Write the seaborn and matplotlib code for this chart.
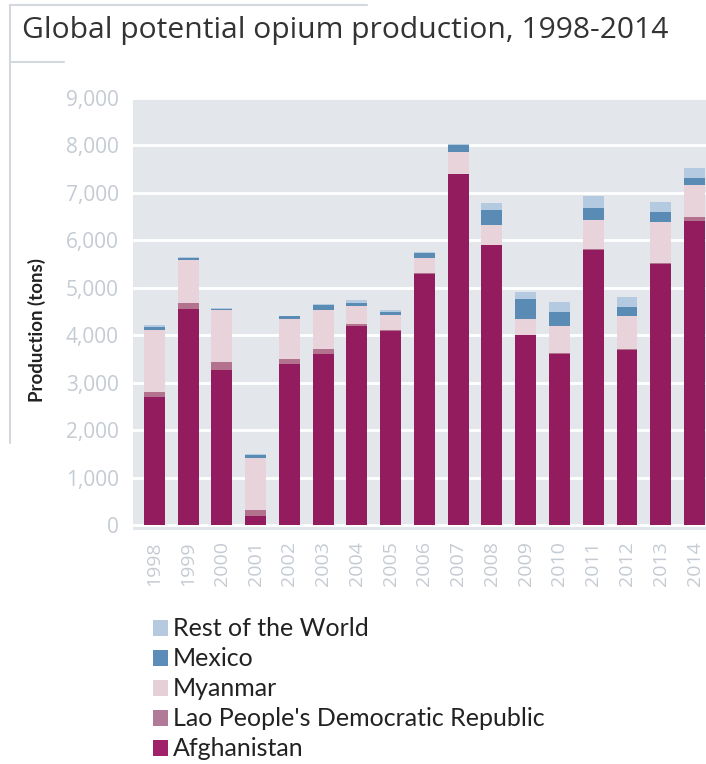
import numpy as np
import pandas as pd
import matplotlib
matplotlib.use("Agg")
import matplotlib.pyplot as plt
from matplotlib.patches import Patch
from matplotlib.lines import Line2D
import seaborn as sns

# Potential opium production by country (tons)
years = [str(y) for y in range(1998, 2015)]
afghanistan = [2693, 4565, 3276, 185, 3400, 3600, 4200, 4100, 5300, 7400,
               5900, 4000, 3600, 5800, 3700, 5500, 6400]
lao = [124, 124, 167, 134, 112, 120, 43, 14, 20, 9, 10, 11, 18, 25, 23, 23, 92]
myanmar = [1303, 895, 1087, 1097, 828, 810, 370, 312, 315, 460, 410, 330,
           580, 610, 690, 870, 670]
mexico = [60, 43, 21, 71, 58, 101, 73, 71, 108, 149, 325, 425, 300, 250,
          175, 200, 150]
rest_of_world = [30, 30, 30, 10, 20, 20, 60, 40, 20, 10, 140, 150, 200, 260,
                 220, 210, 210]

series_names = ["Afghanistan", "Lao People's Democratic Republic", "Myanmar",
                "Mexico", "Rest of the World"]
bar_colors = ["#921C5E", "#B3738F", "#E8D3DA", "#5A8BB5", "#B4CAE0"]
legend_colors = ["#A0206A", "#B07A98", "#E6D0D7", "#5B8DB8", "#B5C9DF"]
yticks = [0, 1000, 2000, 3000, 4000, 5000, 6000, 7000, 8000, 9000]

df = pd.DataFrame({"year": years, "Afghanistan": afghanistan,
                   "Lao People's Democratic Republic": lao,
                   "Myanmar": myanmar, "Mexico": mexico,
                   "Rest of the World": rest_of_world})

sns.set_theme(style="white")
plt.rcParams["font.family"] = ["Open Sans", "DejaVu Sans"]

fig = plt.figure(figsize=(7.06, 7.64), dpi=100)
ax = fig.add_axes([0.188, 0.3063, 0.812, 0.5654])
ax.set_facecolor("#E3E6EA")

# Stacked bars: draw cumulative totals from the top layer down
cum = df[series_names].cumsum(axis=1)
for name, col in reversed(list(zip(series_names, bar_colors))):
    sns.barplot(x=df["year"], y=cum[name], color=col, saturation=1,
                width=0.62, linewidth=0, ax=ax, zorder=3)

ax.set_ylim(-100, 9000)
ax.set_xlim(-0.64, 16.34)
ax.set_yticks(yticks)
ax.set_yticklabels([f"{v:,}" for v in yticks])
ax.yaxis.grid(True, color="white", linewidth=2)
ax.set_axisbelow(True)
for s in ax.spines.values():
    s.set_visible(False)
ax.tick_params(axis="both", length=0, labelcolor="#C5CBD3")
ax.tick_params(axis="y", labelsize=15, pad=10)
ax.tick_params(axis="x", labelsize=14, pad=8)
plt.setp(ax.get_xticklabels(), rotation=90)
ax.set_xlabel("")
ax.set_ylabel("")
fig.text(0.052, 0.568, "Production (tons)", rotation=90, ha="center",
         va="center", fontsize=13.5, fontweight="bold", color="#222222",
         family=["Lato", "DejaVu Sans"])

# Title and frame
fig.text(0.031, 0.950, "Global potential opium production, 1998-2014",
         fontsize=21.6, color="#333333", ha="left", va="baseline")
frame_col = "#D3D8DE"
fig.add_artist(Line2D([0.014, 0.52], [0.993, 0.993], color=frame_col,
                      lw=1.5, transform=fig.transFigure))
fig.add_artist(Line2D([0.014, 0.014], [0.993, 0.42], color=frame_col,
                      lw=1.5, transform=fig.transFigure))
fig.add_artist(Line2D([0.014, 0.09], [0.919, 0.919], color=frame_col,
                      lw=1.5, transform=fig.transFigure))

# Legend
handles = [Patch(facecolor=c, edgecolor="none", label=n)
           for n, c in zip(series_names, legend_colors)]
handles = handles[::-1]
leg = fig.legend(handles=handles, loc="upper left",
                 bbox_to_anchor=(0.202, 0.205), frameon=False,
                 handlelength=0.6, handleheight=0.6,
                 handletextpad=0.2, labelspacing=0.28, borderaxespad=0,
                 prop={"family": ["Lato", "DejaVu Sans"], "size": 18})
for t in leg.get_texts():
    t.set_color("#222222")

fig.savefig("out.png", dpi=100, facecolor="white")
